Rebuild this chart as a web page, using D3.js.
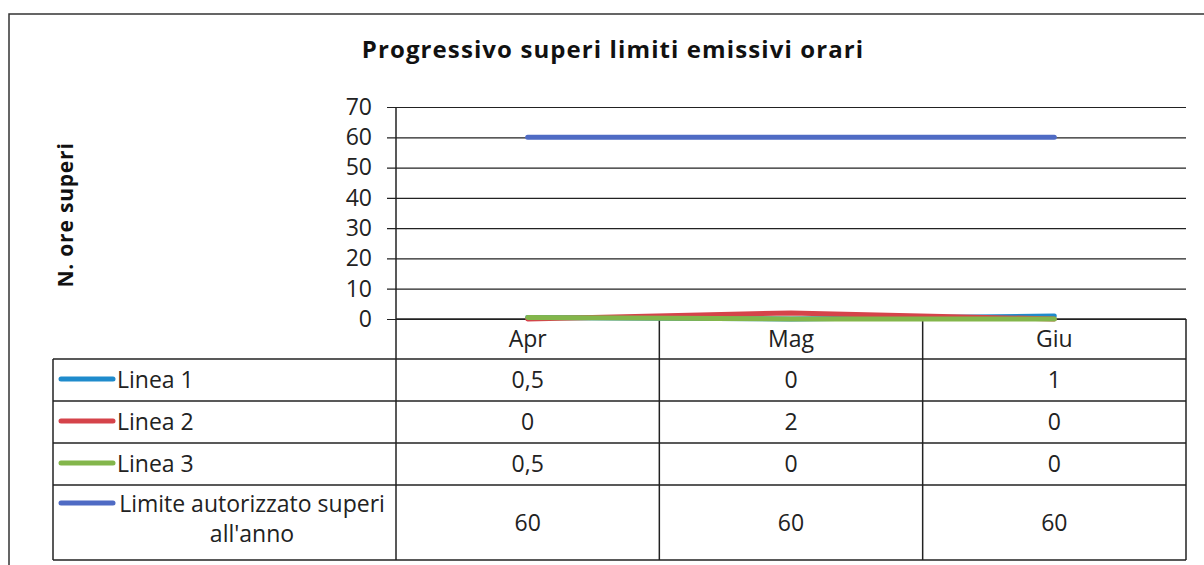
<!DOCTYPE html>
<html>
<head>
<meta charset="utf-8">
<script src="https://cdn.jsdelivr.net/npm/d3@7"></script>
<style>
body { margin: 0; background: #fff; }
svg { display: block; }
</style>
</head>
<body>
<svg id="chart" width="1204" height="565"></svg>
<script>
var chartTitle = "Progressivo superi limiti emissivi orari"
var yTitle = "N. ore superi"
var categories = ["Apr", "Mag", "Giu"]
var seriesNames = ["Linea 1", "Linea 2", "Linea 3", "Limite autorizzato superi all'anno"]
var linea1 = [0.5, 0, 1]
var linea2 = [0, 2, 0]
var linea3 = [0.5, 0, 0]
var limite = [60, 60, 60]
var yTicks = [0, 10, 20, 30, 40, 50, 60, 70]

var seriesValues = [linea1, linea2, linea3, limite]
var seriesColors = ["#1f8bcc", "#d5434a", "#83b64b", "#4f6bc4"]

var fontFam = "'Open Sans', 'Noto Sans', sans-serif"
var txtSize = "23px"
var xleft = 396
var xright = 1186
var ytop = 107
var ybottom = 319
var tableLeft = 53
var rowTops = [359, 401, 443, 485, 560]

var svg = d3.select("#chart")
var numFormat = function(v){ return String(v).replace(".", ",") }

// outer frame (only top and left edges are visible in the crop)
svg.append("path")
    .attr("d", "M9,570 L9,14 L1210,14")
    .attr("fill", "none")
    .attr("stroke", "#333")
    .attr("stroke-width", 1.5)

svg.append("text")
    .attr("x", 613)
    .attr("y", 58)
    .attr("text-anchor", "middle")
    .attr("font-family", fontFam)
    .attr("font-weight", "bold")
    .attr("font-size", "24px")
    .attr("letter-spacing", "1.1px")
    .attr("fill", "#111")
    .text(chartTitle)

svg.append("text")
    .attr("transform", "translate(73,215) rotate(-90)")
    .attr("text-anchor", "middle")
    .attr("font-family", fontFam)
    .attr("font-weight", "bold")
    .attr("font-size", "21px")
    .attr("letter-spacing", "0.8px")
    .attr("fill", "#111")
    .text(yTitle)

var yScale = d3.scaleLinear()
    .domain([0, 70])
    .range([ybottom, ytop])

var xBand = d3.scaleBand()
    .domain(categories)
    .range([xleft, xright])
var xMid = function(c){ return xBand(c) + xBand.bandwidth() / 2 }

var yAxis = d3.axisLeft(yScale)
    .tickValues(yTicks)
    .tickSize(-(xright - xleft))
    .tickPadding(24)

var yAxisG = svg.append("g")
    .attr("transform", "translate(" + xleft + ",0)")
    .call(yAxis)
yAxisG.select(".domain").remove()
yAxisG.selectAll(".tick line")
    .attr("x1", -9)
    .attr("stroke", "#222")
    .attr("stroke-width", 1.2)
yAxisG.selectAll(".tick text")
    .attr("font-family", fontFam)
    .attr("font-size", txtSize)
    .attr("fill", "#222")

svg.append("line")
    .attr("x1", xleft).attr("x2", xleft)
    .attr("y1", ytop).attr("y2", rowTops[rowTops.length - 1])
    .attr("stroke", "#222")
    .attr("stroke-width", 1.5)

// table
var tableG = svg.append("g")
var hLines = [ybottom].concat(rowTops)
hLines.map(function(y, i){
    tableG.append("line")
        .attr("x1", i == 0 ? xleft : tableLeft)
        .attr("x2", xright)
        .attr("y1", y).attr("y2", y)
        .attr("stroke", "#222")
        .attr("stroke-width", 1.5)
})
tableG.append("line")
    .attr("x1", tableLeft).attr("x2", tableLeft)
    .attr("y1", rowTops[0]).attr("y2", rowTops[rowTops.length - 1])
    .attr("stroke", "#222").attr("stroke-width", 1.5)
categories.map(function(c){
    tableG.append("line")
        .attr("x1", xBand(c) + xBand.bandwidth()).attr("x2", xBand(c) + xBand.bandwidth())
        .attr("y1", ybottom).attr("y2", rowTops[rowTops.length - 1])
        .attr("stroke", "#222").attr("stroke-width", 1.5)
})

tableG.selectAll("text.cat")
    .data(categories)
    .enter()
    .append("text")
    .attr("class", "cat")
    .attr("x", function(d){ return xMid(d) })
    .attr("y", (ybottom + rowTops[0]) / 2 + 8)
    .attr("text-anchor", "middle")
    .attr("font-family", fontFam)
    .attr("font-size", txtSize)
    .attr("fill", "#222")
    .text(function(d){ return d })

seriesValues.map(function(vals, si){
    var rowMid = (rowTops[si] + rowTops[si + 1]) / 2
    tableG.selectAll("text.v" + si)
        .data(vals)
        .enter()
        .append("text")
        .attr("class", "v" + si)
        .attr("x", function(d, i){ return xMid(categories[i]) })
        .attr("y", rowMid + 8)
        .attr("text-anchor", "middle")
        .attr("font-family", fontFam)
        .attr("font-size", txtSize)
        .attr("fill", "#222")
        .text(function(d){ return numFormat(d) })

    var swatchY = si < 3 ? rowMid - 1 : rowTops[si] + 18
    tableG.append("line")
        .attr("x1", 61).attr("x2", 113)
        .attr("y1", swatchY).attr("y2", swatchY)
        .attr("stroke", seriesColors[si])
        .attr("stroke-width", 5)
        .attr("stroke-linecap", "round")

    if (si < 3) {
        tableG.append("text")
            .attr("x", 117)
            .attr("y", rowMid + 8)
            .attr("font-family", fontFam)
            .attr("font-size", txtSize)
            .attr("fill", "#222")
            .text(seriesNames[si])
    } else {
        var words = seriesNames[si].split(" ")
        var lines = [words.slice(0, 3).join(" "), words.slice(3).join(" ")]
        lines.map(function(t, li){
            tableG.append("text")
                .attr("x", 252)
                .attr("y", rowTops[si] + 27 + li * 30)
                .attr("text-anchor", "middle")
                .attr("font-family", fontFam)
                .attr("font-size", txtSize)
                .attr("fill", "#222")
                .text(t)
        })
    }
})

// lines
var lineFunction = d3.line()
    .x(function(d, i){ return xMid(categories[i]) })
    .y(function(d){ return yScale(d) })

svg.append("g")
    .selectAll("path")
    .data(seriesValues)
    .enter()
    .append("path")
    .attr("d", function(d){ return lineFunction(d) })
    .attr("fill", "none")
    .attr("stroke", function(d, i){ return seriesColors[i] })
    .attr("stroke-width", 5)
    .attr("stroke-linecap", "round")
    .attr("stroke-linejoin", "round")
</script>
</body>
</html>
